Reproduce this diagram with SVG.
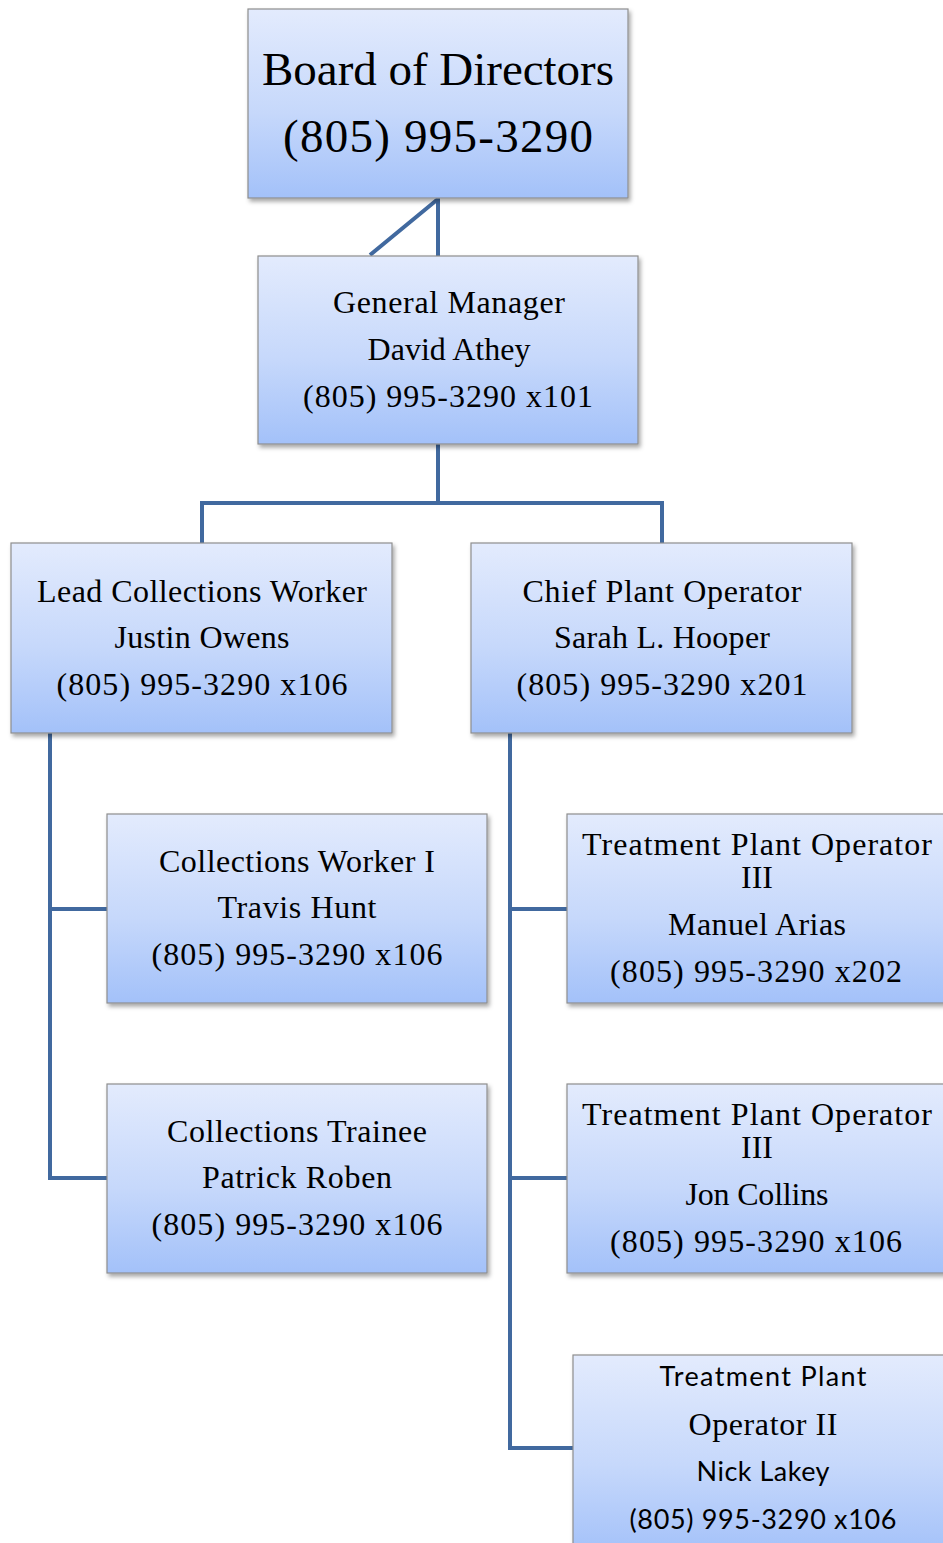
<svg xmlns="http://www.w3.org/2000/svg" width="943" height="1543" viewBox="0 0 943 1543">
<defs>
<linearGradient id="g" x1="0" y1="0" x2="0" y2="1">
<stop offset="0" stop-color="#e3ebfd"/>
<stop offset="0.55" stop-color="#c6d8fb"/>
<stop offset="1" stop-color="#a3c1f9"/>
</linearGradient>
<filter id="sh" x="-5%" y="-5%" width="112%" height="115%">
<feDropShadow dx="2" dy="3" stdDeviation="2" flood-color="#000" flood-opacity="0.35"/>
</filter>
</defs>
<style>
.box{fill:url(#g);stroke:#8e8e8e;stroke-width:1.2;filter:url(#sh)}
.s{font-family:"Liberation Serif","Times New Roman",serif;font-size:32px;fill:#000;text-anchor:middle}
.b{font-size:47px}
.n{font-family:Lato,"Liberation Sans",sans-serif;font-size:27px;fill:#000;text-anchor:middle}
.c{fill:none;stroke:#41699f;stroke-width:4}
</style>
<rect width="943" height="1543" fill="#fff"/>
<g id="connectors">
<path class="c" d="M438,198 V256 M438,199 L370,255"/>
<path class="c" d="M438,444 V503 M202,543 V503 H662 V543"/>
<path class="c" d="M50,733 V1178 H107 M50,909 H107"/>
<path class="c" d="M510,733 V1448 H573 M510,909 H567 M510,1178 H567"/>
</g>
<g id="board">
<rect class="box" x="248" y="9" width="380" height="189"/>
<text class="s b" x="438" y="85" textLength="352" lengthAdjust="spacing">Board of Directors</text>
<text class="s b" x="438" y="152" textLength="310" lengthAdjust="spacing">(805) 995-3290</text>
</g>
<g id="gm">
<rect class="box" x="258" y="256" width="380" height="188"/>
<text class="s" x="449" y="313" textLength="232" lengthAdjust="spacing">General Manager</text>
<text class="s" x="449" y="360" textLength="163" lengthAdjust="spacing">David Athey</text>
<text class="s" x="448" y="407" textLength="290" lengthAdjust="spacing">(805) 995-3290 x101</text>
</g>
<g id="lead">
<rect class="box" x="11" y="543" width="381" height="190"/>
<text class="s" x="202" y="602" textLength="330" lengthAdjust="spacing">Lead Collections Worker</text>
<text class="s" x="202" y="648" textLength="175" lengthAdjust="spacing">Justin Owens</text>
<text class="s" x="202" y="695" textLength="291" lengthAdjust="spacing">(805) 995-3290 x106</text>
</g>
<g id="chief">
<rect class="box" x="471" y="543" width="381" height="190"/>
<text class="s" x="662" y="602" textLength="279" lengthAdjust="spacing">Chief Plant Operator</text>
<text class="s" x="662" y="648" textLength="216" lengthAdjust="spacing">Sarah L. Hooper</text>
<text class="s" x="662" y="695" textLength="291" lengthAdjust="spacing">(805) 995-3290 x201</text>
</g>
<g id="cw1">
<rect class="box" x="107" y="814" width="380" height="189"/>
<text class="s" x="297" y="872" textLength="276" lengthAdjust="spacing">Collections Worker I</text>
<text class="s" x="297" y="918" textLength="159" lengthAdjust="spacing">Travis Hunt</text>
<text class="s" x="297" y="965" textLength="291" lengthAdjust="spacing">(805) 995-3290 x106</text>
</g>
<g id="trainee">
<rect class="box" x="107" y="1084" width="380" height="189"/>
<text class="s" x="297" y="1142" textLength="260" lengthAdjust="spacing">Collections Trainee</text>
<text class="s" x="297" y="1188" textLength="190" lengthAdjust="spacing">Patrick Roben</text>
<text class="s" x="297" y="1235" textLength="291" lengthAdjust="spacing">(805) 995-3290 x106</text>
</g>
<g id="tpo-manuel">
<rect class="box" x="567" y="814" width="380" height="189"/>
<text class="s" x="757" y="855" textLength="350" lengthAdjust="spacing">Treatment Plant Operator</text>
<text class="s" x="757" y="888">III</text>
<text class="s" x="757" y="935" textLength="178" lengthAdjust="spacing">Manuel Arias</text>
<text class="s" x="756" y="982" textLength="292" lengthAdjust="spacing">(805) 995-3290 x202</text>
</g>
<g id="tpo-jon">
<rect class="box" x="567" y="1084" width="380" height="189"/>
<text class="s" x="757" y="1125" textLength="350" lengthAdjust="spacing">Treatment Plant Operator</text>
<text class="s" x="757" y="1158">III</text>
<text class="s" x="757" y="1205" textLength="143" lengthAdjust="spacing">Jon Collins</text>
<text class="s" x="756" y="1252" textLength="292" lengthAdjust="spacing">(805) 995-3290 x106</text>
</g>
<g id="tpo-nick">
<rect class="box" x="573" y="1355" width="380" height="200"/>
<text class="n" x="763" y="1386" textLength="207" lengthAdjust="spacing">Treatment Plant</text>
<text class="s" x="763" y="1435" textLength="149" lengthAdjust="spacing">Operator II</text>
<text class="n" x="763" y="1481" textLength="133" lengthAdjust="spacing">Nick Lakey</text>
<text class="n" x="763" y="1529" textLength="267" lengthAdjust="spacing">(805) 995-3290 x106</text>
</g>
</svg>
